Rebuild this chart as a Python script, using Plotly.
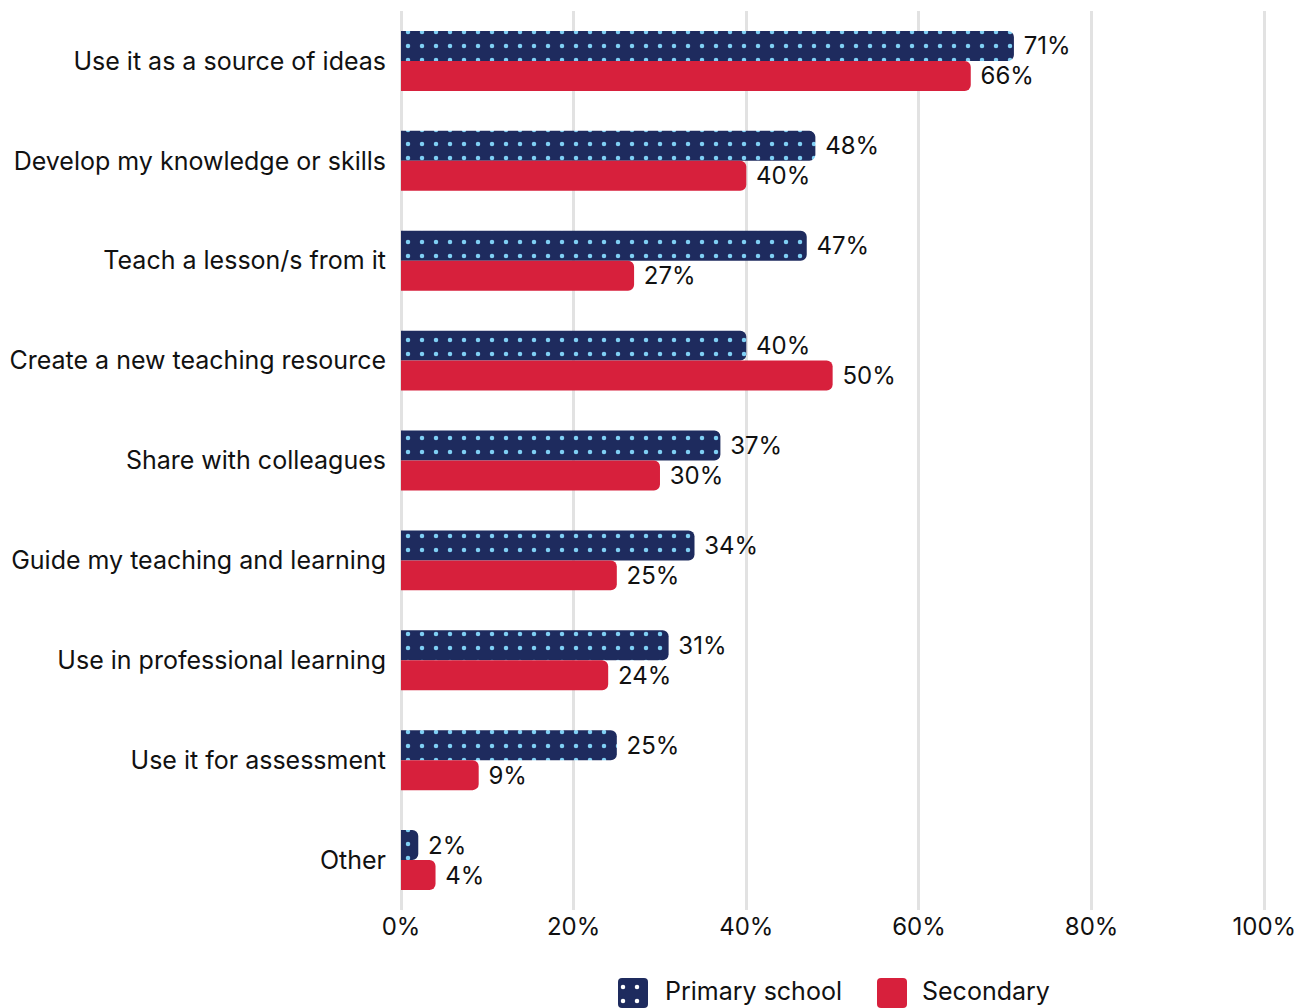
import plotly.graph_objects as go

categories = [
    "Use it as a source of ideas",
    "Develop my knowledge or skills",
    "Teach a lesson/s from it",
    "Create a new teaching resource",
    "Share with colleagues",
    "Guide my teaching and learning",
    "Use in professional learning",
    "Use it for assessment",
    "Other",
]
primary = [71, 48, 47, 40, 37, 34, 31, 25, 2]
secondary = [66, 40, 27, 50, 30, 25, 24, 9, 4]
x_ticks = [0, 20, 40, 60, 80, 100]
x_tick_labels = ["0%", "20%", "40%", "60%", "80%", "100%"]
series_names = ["Primary school", "Secondary"]

W, H = 1301, 1008
PLOT_L, PLOT_R, PLOT_T, PLOT_B = 401, 1266, 11, 910

NAVY = "#1e2b5e"
DOT = "#7fd0f5"
RED = "#d7203c"
INK = "#111111"
FONT = "Inter, Roboto, sans-serif"
PAD = "\u00a0"

dots = dict(shape=".", fgcolor=DOT, fgopacity=1, bgcolor=NAVY, size=14,
            solidity=0.08, fillmode="overlay")

fig = go.Figure()
fig.add_trace(go.Bar(
    name=series_names[0],
    y=categories,
    x=primary,
    orientation="h",
    marker=dict(color=NAVY, line=dict(width=0), pattern=dots),
    text=[f"{PAD}{v}%" for v in primary],
    textposition="outside",
    textfont=dict(size=24, color=INK, family=FONT),
    cliponaxis=False,
    showlegend=False,
))
fig.add_trace(go.Bar(
    name=series_names[1],
    y=categories,
    x=secondary,
    orientation="h",
    marker=dict(color=RED, line=dict(width=0)),
    text=[f"{PAD}{v}%" for v in secondary],
    textposition="outside",
    textfont=dict(size=24, color=INK, family=FONT),
    cliponaxis=False,
    showlegend=False,
))

# Legend drawn on a full-page, pixel-scaled subplot so the swatches can be
# large and carry the same dot pattern as the bars.
SW = 30
swatch_left = [618, 877]
text_left = [663, 920]
fig.add_trace(go.Bar(
    x=[l + SW / 2 for l in swatch_left],
    y=[SW, SW],
    base=0,
    width=SW,
    xaxis="x2",
    yaxis="y2",
    marker=dict(
        color=[NAVY, RED],
        line=dict(width=0),
        cornerradius=4,
        pattern=dict(shape=[".", ""], fgcolor=[DOT, RED], fgopacity=1,
                     bgcolor=[NAVY, RED], size=14, solidity=0.08,
                     fillmode="overlay"),
    ),
    hoverinfo="skip",
    showlegend=False,
))
for name, tx in zip(series_names, text_left):
    fig.add_annotation(
        x=tx, y=SW / 2 + 2, xref="x2", yref="y2", text=name, showarrow=False,
        xanchor="left", yanchor="middle",
        font=dict(size=25, color=INK, family=FONT),
    )

fig.update_layout(
    width=W,
    height=H,
    margin=dict(l=0, r=0, t=0, b=0),
    barmode="group",
    bargap=0.4,
    bargroupgap=0,
    barcornerradius=6,
    plot_bgcolor="rgba(0,0,0,0)",
    paper_bgcolor="white",
    font=dict(family=FONT, size=24, color=INK),
    showlegend=False,
    xaxis=dict(
        domain=[PLOT_L / W, PLOT_R / W],
        range=[0, 100.2],
        tickvals=x_ticks,
        ticktext=x_tick_labels,
        showgrid=True,
        gridcolor="#e2e2e2",
        gridwidth=3,
        zeroline=True,
        zerolinecolor="#e2e2e2",
        zerolinewidth=3,
        showline=False,
        ticks="",
        tickfont=dict(size=24, color=INK, family=FONT),
        automargin=False,
        fixedrange=True,
    ),
    yaxis=dict(
        domain=[(H - PLOT_B) / H, (H - PLOT_T) / H],
        autorange="reversed",
        showgrid=False,
        showline=False,
        ticks="",
        ticklabelstandoff=14,
        tickfont=dict(size=25, color=INK, family=FONT),
        automargin=False,
        fixedrange=True,
    ),
    xaxis2=dict(domain=[0, 1], range=[0, W], visible=False,
                anchor="y2", fixedrange=True, automargin=False),
    yaxis2=dict(domain=[0, 1], range=[0, H], visible=False,
                anchor="x2", fixedrange=True, automargin=False),
)

fig.write_html("out.html")
